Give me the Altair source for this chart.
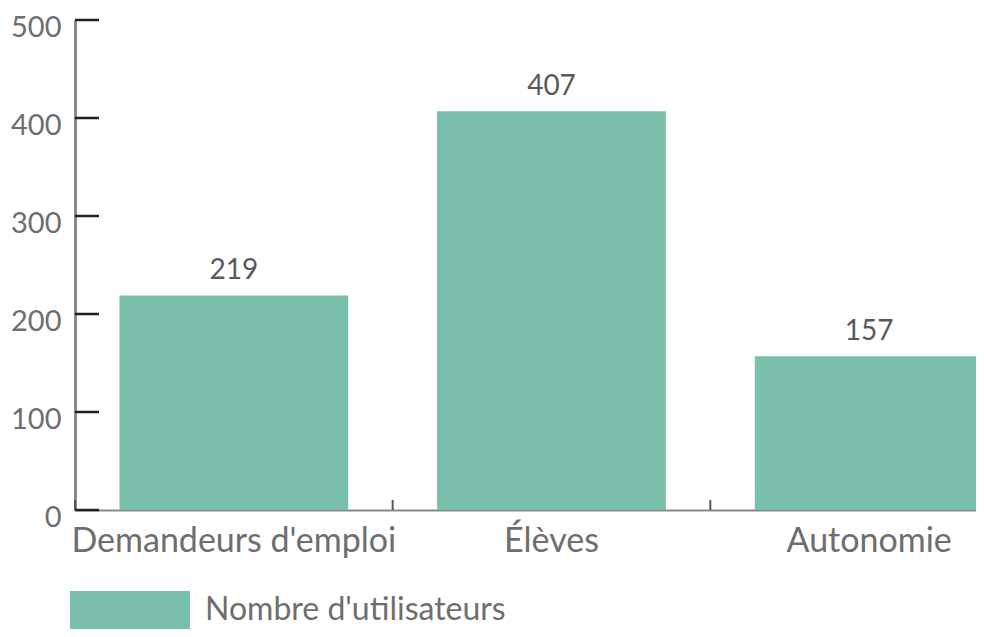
import altair as alt
import pandas as pd

categories = ["Demandeurs d'emploi", "Élèves", "Autonomie"]
values = [219, 407, 157]
series_name = "Nombre d'utilisateurs"
y_ticks = [0, 100, 200, 300, 400, 500]

df = pd.DataFrame({"cat": categories, "val": values, "series": [series_name] * 3})
ticks_df = pd.DataFrame({"v": y_ticks})

FONT = "Lato"
BAR = "#7ABFAB"
TXT = "#6e6e6e"
RANGE = 953
P_IN = 0.28
P_OUT = 0.14
STEP = RANGE / (len(categories) - P_IN + 2 * P_OUT)

x_enc = alt.X(
    "cat:N",
    sort=categories,
    scale=alt.Scale(range=[0, RANGE], paddingInner=P_IN, paddingOuter=P_OUT),
    axis=alt.Axis(
        title=None, ticks=False, labelFontSize=34, labelColor=TXT, labelFont=FONT,
        labelPadding=14, labelAngle=0, labelLimit=600,
        domainColor="#8a8a8a", domainWidth=2,
    ),
)
y_scale = alt.Scale(domain=[0, 500])

bars = alt.Chart(df).mark_bar().encode(
    x=x_enc,
    y=alt.Y(
        "val:Q", scale=y_scale,
        axis=alt.Axis(
            title=None, values=y_ticks, ticks=False, grid=False,
            labelFontSize=29, labelColor=TXT, labelFont=FONT, labelPadding=14,
            labelOffset=7, domainColor="#8a8a8a", domainWidth=3,
        ),
    ),
    color=alt.Color(
        "series:N",
        scale=alt.Scale(range=[BAR]),
        legend=alt.Legend(
            title=None, orient="none", legendX=-5, legendY=530,
            symbolType="M-1,-0.317H1V0.583H-1Z", symbolSize=14400,
            symbolStrokeWidth=0, symbolOpacity=1,
            labelFontSize=32, labelColor=TXT, labelFont=FONT, labelOffset=15,
            labelLimit=600,
        ),
    ),
)

labels = alt.Chart(df).mark_text(
    baseline="alphabetic", dy=-16, fontSize=28, font=FONT, color="#595959"
).encode(
    x=alt.X("cat:N", sort=categories),
    y=alt.Y("val:Q", scale=y_scale),
    text=alt.Text("val:Q"),
)

# ticks between the bands (midway through the inner padding)
xticks = alt.Chart(df).mark_rule(
    color="#555555", strokeWidth=2, xOffset=-STEP * P_IN / 2
).encode(
    x=alt.X("cat:N", sort=categories, bandPosition=0),
    y=alt.value(480),
    y2=alt.value(490),
)

yticks = alt.Chart(ticks_df).mark_rule(color="#222222", strokeWidth=2.5).encode(
    y=alt.Y("v:Q", scale=y_scale),
    x=alt.value(0),
    x2=alt.value(24),
)

chart = alt.layer(bars, labels, xticks, yticks).properties(
    width=901,
    height=490,
    autosize=alt.AutoSizeParams(type="none"),
    padding={"left": 67, "top": 12, "right": 0, "bottom": 119},
).configure_view(stroke=None)

chart.save("out.html", embed_options={"renderer": "svg", "actions": False})
